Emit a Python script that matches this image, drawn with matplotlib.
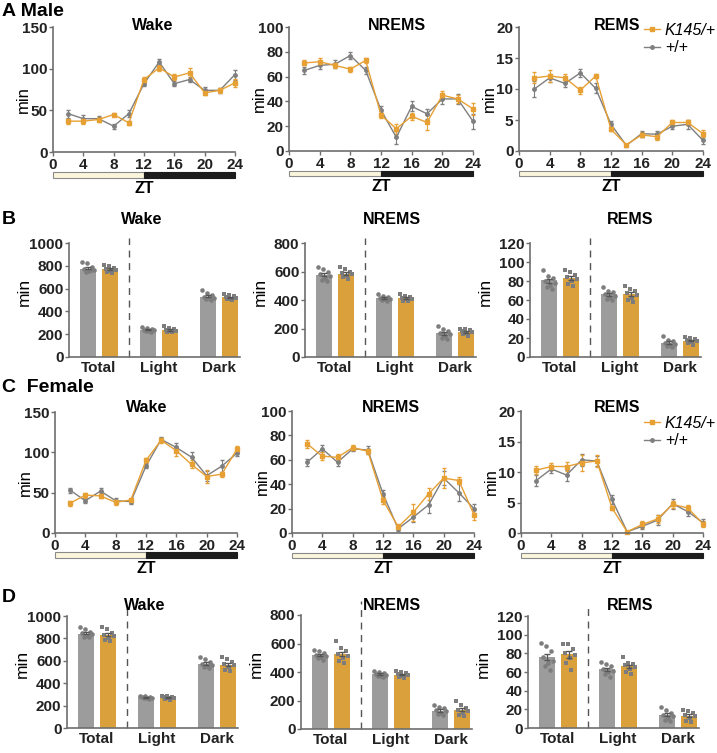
import numpy as np
import matplotlib.pyplot as plt
import matplotlib.transforms as mtransforms
from matplotlib.patches import Rectangle
from matplotlib.lines import Line2D

plt.rcParams['font.family'] = ['Liberation Sans', 'DejaVu Sans']
plt.rcParams['font.weight'] = 'bold'

# ---- hourly data (ZT) ----
zt = [2, 4, 6, 8, 10, 12, 14, 16, 18, 20, 22, 24]

# male
m_wake_wt = [46, 40, 40, 31, 46, 82, 108, 82, 87, 74, 74, 93]
m_wake_wt_se = [5, 4, 3, 3, 4, 3, 4, 3, 3, 4, 3, 6]
m_wake_k = [37, 37, 39, 45, 35, 87, 101, 90, 95, 71, 74, 83]
m_wake_k_se = [3, 3, 3, 2, 2, 3, 4, 4, 6, 3, 3, 5]

m_nrem_wt = [65, 69, 70, 77, 65, 33, 11, 36, 30, 42, 42, 24]
m_nrem_wt_se = [3, 3, 3, 3, 3, 3, 5, 4, 4, 4, 4, 6]
m_nrem_k = [71, 72, 69, 66, 73, 29, 18, 28, 23, 45, 42, 34]
m_nrem_k_se = [2, 3, 2, 2, 2, 2, 4, 3, 6, 3, 3, 5]

m_rem_wt = [10.0, 11.8, 10.9, 12.6, 10.1, 4.3, 0.9, 2.8, 2.7, 4.0, 4.3, 1.7]
m_rem_wt_se = [1.3, 0.6, 0.5, 0.7, 0.8, 0.6, 0.3, 0.5, 0.5, 0.5, 0.7, 0.5]
m_rem_k = [11.8, 12.1, 11.8, 9.8, 12.1, 3.5, 1.0, 2.6, 2.3, 4.6, 4.6, 2.8]
m_rem_k_se = [0.9, 0.9, 0.7, 0.6, 0.4, 0.3, 0.2, 0.4, 0.6, 0.4, 0.4, 0.6]

# female
f_wake_wt = [53, 40, 52, 40, 39, 83, 116, 106, 94, 71, 83, 99]
f_wake_wt_se = [3, 3, 4, 3, 3, 3, 3, 5, 7, 6, 7, 3]
f_wake_k = [37, 47, 46, 38, 41, 90, 115, 102, 85, 70, 73, 104]
f_wake_k_se = [3, 3, 3, 3, 2, 3, 3, 6, 5, 8, 3, 4]

f_nrem_wt = [58, 69, 58, 69, 68, 32, 3.5, 13, 23, 45, 33, 20]
f_nrem_wt_se = [3, 3, 3, 2, 3, 3, 2, 4, 7, 6, 7, 4]
f_nrem_k = [73, 63, 62, 70, 67, 27, 5, 17, 32, 45, 43, 15]
f_nrem_k_se = [3, 3, 3, 2, 2, 3, 2, 7, 5, 8, 3, 4]

f_rem_wt = [8.6, 10.5, 9.5, 12.0, 11.8, 5.5, 0.2, 1.1, 2.1, 4.8, 3.5, 1.7]
f_rem_wt_se = [0.9, 0.6, 0.9, 1.0, 0.8, 0.7, 0.1, 0.4, 0.8, 0.8, 0.7, 0.6]
f_rem_k = [10.3, 10.9, 10.9, 11.5, 11.8, 4.1, 0.2, 1.4, 2.3, 4.7, 4.1, 1.5]
f_rem_k_se = [0.7, 0.5, 0.7, 1.3, 1.0, 0.3, 0.1, 0.6, 0.6, 0.6, 0.5, 0.5]

# ---- totals (Total, Light, Dark) ----
periods = ['Total', 'Light', 'Dark']

mB_wake_wt = [775, 238, 529]
mB_wake_k = [772, 236, 523]
mB_wake_wt_dots = [[830, 828, 790, 775, 760, 755, 750, 760], [265, 255, 250, 240, 235, 230, 225, 220],
                   [590, 560, 545, 530, 520, 515, 510, 500]]
mB_wake_k_dots = [[810, 795, 785, 770, 760, 755, 745, 740], [270, 255, 245, 235, 230, 225, 220, 215],
                  [555, 545, 535, 525, 515, 510, 505, 500]]

mB_nrem_wt = [578, 412, 168]
mB_nrem_k = [585, 412, 175]
mB_nrem_wt_dots = [[635, 615, 600, 580, 565, 555, 540, 530], [440, 430, 420, 415, 410, 405, 400, 395],
                   [215, 200, 185, 170, 160, 150, 135, 125]]
mB_nrem_k_dots = [[630, 615, 600, 590, 580, 570, 560, 545], [445, 430, 420, 415, 410, 405, 395, 390],
                  [200, 195, 190, 180, 175, 170, 160, 150]]

mB_rem_wt = [81, 66, 15]
mB_rem_k = [83, 66, 17]
mB_rem_wt_dots = [[92, 85, 83, 80, 78, 76, 74, 72], [74, 70, 68, 66, 64, 63, 61, 60],
                  [22, 18, 17, 15, 14, 13, 12, 11]]
mB_rem_k_dots = [[92, 90, 86, 84, 82, 80, 77, 75], [75, 72, 70, 67, 65, 62, 60, 58],
                 [21, 20, 19, 18, 17, 16, 15, 13]]

fD_wake_wt = [843, 274, 571]
fD_wake_k = [828, 271, 562]
fD_wake_wt_dots = [[900, 880, 860, 845, 835, 825, 815, 810], [290, 285, 280, 275, 270, 268, 265, 262],
                   [630, 615, 590, 575, 565, 555, 545, 540]]
fD_wake_k_dots = [[905, 880, 850, 830, 820, 805, 790, 775], [290, 285, 280, 275, 270, 265, 255, 250],
                  [635, 615, 590, 570, 560, 545, 520, 510]]

fD_nrem_wt = [519, 384, 129]
fD_nrem_k = [524, 379, 133]
fD_nrem_wt_dots = [[555, 545, 530, 520, 515, 505, 495, 485], [410, 400, 395, 385, 380, 375, 370, 365],
                   [165, 155, 145, 130, 125, 115, 105, 95]]
fD_nrem_k_dots = [[615, 570, 545, 525, 510, 500, 480, 460], [410, 400, 395, 385, 378, 370, 365, 360],
                  [200, 165, 150, 135, 125, 115, 100, 90]]

fD_rem_wt = [76, 63, 14]
fD_rem_k = [79, 66, 13]
fD_rem_wt_dots = [[91, 88, 82, 76, 72, 70, 66, 62], [71, 69, 66, 63, 61, 60, 58, 55],
                  [22, 19, 16, 14, 13, 11, 9, 8]]
fD_rem_k_dots = [[90, 90, 85, 80, 78, 75, 70, 62], [76, 70, 69, 67, 65, 63, 60, 58],
                 [19, 18, 16, 14, 13, 11, 8, 6]]

# ---- style ----
gray_line = '#7f7f7f'
orange_line = '#e6a033'
gray_bar = '#9c9c9c'
orange_bar = '#d9a03c'
dot_col = '#7d7d7d'
axis_col = '#6e6e6e'

W, H = 717, 753
fig = plt.figure(figsize=(W / 100, H / 100), dpi=100)


def box(x0, y0, x1, y1):
    return [x0 / W, 1 - y1 / H, (x1 - x0) / W, (y1 - y0) / H]


def ftxt(x, y, s, **kw):
    kw.setdefault('va', 'center')
    fig.text(x / W, 1 - y / H, s, **kw)


def style_axes(ax, ticksize):
    for s in ['top', 'right']:
        ax.spines[s].set_visible(False)
    for s in ['left', 'bottom']:
        ax.spines[s].set_color(axis_col)
        ax.spines[s].set_linewidth(1.2)
    ax.tick_params(colors=axis_col, labelcolor='#222222', labelsize=ticksize, length=3, width=1, pad=1)


def label_min(ax, rect, dx, fy, size):
    # dx: pixel offset of the label's right edge from the y axis
    ax.set_ylabel('min', fontsize=size)
    ax.yaxis.set_label_coords(dx / (rect[2] - rect[0]), fy)


def line_panel(rect, wt, wt_se, k, k_se, ymax, ystep):
    ax = fig.add_axes(box(*rect))
    ax.errorbar(zt, wt, yerr=wt_se, color=gray_line, marker='o', ms=2.5, lw=1.0,
                capsize=1.5, elinewidth=0.8, clip_on=False)
    ax.errorbar(zt, k, yerr=k_se, color=orange_line, marker='s', ms=2.5, lw=1.0,
                capsize=1.5, elinewidth=0.8, clip_on=False)
    ax.set_xlim(0, 24)
    ax.set_ylim(0, ymax)
    ax.set_xticks(range(0, 25, 4))
    ax.set_yticks(np.arange(0, ymax + 1, ystep))
    style_axes(ax, 11)
    label_min(ax, rect, -22, 0.42, 12)
    tr = mtransforms.blended_transform_factory(ax.transData, ax.transAxes)
    ax.add_patch(Rectangle((0, -0.205), 12, 0.045, transform=tr, clip_on=False,
                           facecolor='#fbf5dc', edgecolor='#8a8a8a', lw=0.8))
    ax.add_patch(Rectangle((12, -0.205), 12, 0.045, transform=tr, clip_on=False,
                           facecolor='#1c1c1c', edgecolor='#1c1c1c', lw=0.8))
    ax.text(12, -0.29, 'ZT', transform=tr, ha='center', va='center', fontsize=11.5)
    return ax


def bar_panel(rect, wt, k, wt_dots, k_dots, ymax, ystep, dash_top):
    ax = fig.add_axes(box(*rect))
    pos = np.arange(len(periods))
    off = 0.18
    ax.bar(pos - off, wt, width=0.27, color=gray_bar, zorder=1)
    ax.bar(pos + off, k, width=0.27, color=orange_bar, zorder=1)
    for i in range(len(periods)):
        for dots, x0, mk in [(wt_dots[i], pos[i] - off, 'o'), (k_dots[i], pos[i] + off, 's')]:
            n = len(dots)
            xs = x0 + np.linspace(-0.1, 0.1, n)[np.argsort(np.arange(n) % 3)]
            ax.plot(xs, dots, mk, color=dot_col, ms=3.3, mew=0, zorder=3)
            se = np.std(dots) / np.sqrt(n)
            ax.errorbar(x0, np.mean(dots), yerr=se, fmt='none', ecolor='#555555',
                        capsize=2.5, elinewidth=0.9, zorder=4)
    ax.set_xlim(-0.5, 2.35)
    ax.set_ylim(0, ymax)
    ax.set_yticks(np.arange(0, ymax + 1, ystep))
    ax.set_xticks(pos)
    ax.set_xticklabels(periods, fontsize=12.5)
    style_axes(ax, 11)
    ax.tick_params(axis='x', length=0, pad=3)
    label_min(ax, rect, -37, 0.57, 12.5)
    tr = mtransforms.blended_transform_factory(ax.transData, ax.transAxes)
    ax.plot([0.5, 0.5], [0, dash_top], transform=tr, color='#555555', lw=1,
            ls=(0, (5, 4)), clip_on=False)
    return ax


# row A (male, hourly)
line_panel((53, 27, 235, 152), m_wake_wt, m_wake_wt_se, m_wake_k, m_wake_k_se, 150, 50)
line_panel((289, 27, 473, 151), m_nrem_wt, m_nrem_wt_se, m_nrem_k, m_nrem_k_se, 100, 20)
line_panel((519, 27, 703, 151), m_rem_wt, m_rem_wt_se, m_rem_k, m_rem_k_se, 20, 5)

# row B (male, totals)
bar_panel((69, 243, 240, 357), mB_wake_wt, mB_wake_k, mB_wake_wt_dots, mB_wake_k_dots, 1000, 200, 1.04)
bar_panel((305, 243, 476, 357), mB_nrem_wt, mB_nrem_k, mB_nrem_wt_dots, mB_nrem_k_dots, 800, 200, 1.04)
bar_panel((530, 243, 701, 357), mB_rem_wt, mB_rem_k, mB_rem_wt_dots, mB_rem_k_dots, 120, 20, 1.04)

# row C (female, hourly)
line_panel((55, 412, 237, 533), f_wake_wt, f_wake_wt_se, f_wake_k, f_wake_k_se, 150, 50)
line_panel((292, 411, 474, 533), f_nrem_wt, f_nrem_wt_se, f_nrem_k, f_nrem_k_se, 100, 20)
line_panel((521, 411, 703, 533), f_rem_wt, f_rem_wt_se, f_rem_k, f_rem_k_se, 20, 5)

# row D (female, totals)
bar_panel((67, 616, 238, 728), fD_wake_wt, fD_wake_k, fD_wake_wt_dots, fD_wake_k_dots, 1000, 200, 1.12)
bar_panel((301, 615, 472, 729), fD_nrem_wt, fD_nrem_k, fD_nrem_wt_dots, fD_nrem_k_dots, 800, 200, 1.12)
bar_panel((528, 616, 699, 728), fD_rem_wt, fD_rem_k, fD_rem_wt_dots, fD_rem_k_dots, 120, 20, 1.12)

# panel letters
ftxt(2, 12, 'A Male', fontsize=14)
ftxt(2, 219, 'B', fontsize=14)
ftxt(2, 388, 'C  Female', fontsize=14)
ftxt(2, 598, 'D', fontsize=14)

# titles
for x, y, s in [(153, 25, 'Wake'), (397, 25, 'NREMS'), (617, 25, 'REMS'),
                (142, 220, 'Wake'), (392, 220, 'NREMS'), (630, 220, 'REMS'),
                (147, 407, 'Wake'), (391, 407, 'NREMS'), (617, 407, 'REMS'),
                (145, 605, 'Wake'), (392, 605, 'NREMS'), (630, 605, 'REMS')]:
    ftxt(x, y, s, ha='center', fontsize=11.5)

# legends
handles = [Line2D([], [], color=orange_line, marker='s', ms=2.5, lw=1.0),
           Line2D([], [], color=gray_line, marker='o', ms=2.5, lw=1.0)]
labels = ['K145/+', '+/+']
for ytop in [23, 416]:
    leg = fig.legend(handles, labels, loc='upper left', bbox_to_anchor=(644 / W, 1 - ytop / H),
                     frameon=False, handlelength=1.0, handletextpad=0.3, labelspacing=0.15,
                     borderaxespad=0, borderpad=0, prop={'size': 11.5, 'weight': 'normal'})
    leg.get_texts()[0].set_style('italic')

fig.savefig('out.png', dpi=100)
